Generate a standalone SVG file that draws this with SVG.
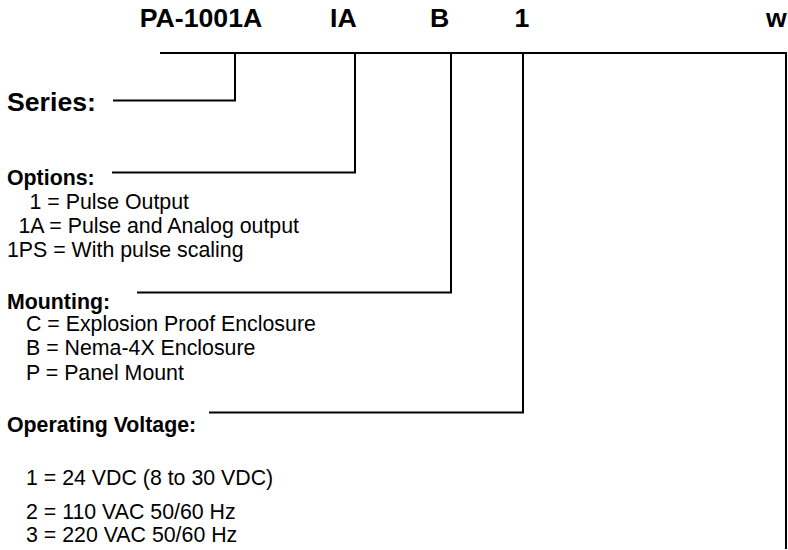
<svg xmlns="http://www.w3.org/2000/svg" width="788" height="550" viewBox="0 0 788 550">
<style>
  text { font-family: "Liberation Sans", Arial, sans-serif; fill: #000; }
  .code { font-size: 26.67px; font-weight: bold; }
  .series { font-size: 26.67px; font-weight: bold; }
  .head { font-size: 21.33px; font-weight: bold; }
  .item { font-size: 21.33px; }
  .conn { fill: none; stroke: #000; stroke-width: 2; stroke-linecap: square; stroke-linejoin: miter; }
</style>
<rect width="788" height="550" fill="#fff"/>
<g id="code">
  <text class="code" x="139.8" y="26.5">PA-1001A</text>
  <text class="code" x="330" y="26.5">IA</text>
  <text class="code" x="430" y="26.5">B</text>
  <text class="code" x="514.5" y="26.5">1</text>
  <text class="code" x="766" y="26.5">w</text>
</g>
<g id="connectors">
  <polyline class="conn" points="161,53 786,53 786,548"/>
  <polyline class="conn" points="235,53 235,100.5 114,100.5"/>
  <polyline class="conn" points="355,53 355,172.5 113,172.5"/>
  <polyline class="conn" points="451,53 451,292.5 138,292.5"/>
  <polyline class="conn" points="523,53 523,412.5 210,412.5"/>
</g>
<g id="series">
  <text class="series" x="7" y="111">Series:</text>
</g>
<g id="options">
  <text class="head" x="7" y="185">Options:</text>
  <text class="item" x="29.5" y="208.5">1 = Pulse Output</text>
  <text class="item" x="18.5" y="232.5">1A = Pulse and Analog output</text>
  <text class="item" x="7" y="256.5">1PS = With pulse scaling</text>
</g>
<g id="mounting">
  <text class="head" x="7" y="308.5">Mounting:</text>
  <text class="item" x="26" y="331">C = Explosion Proof Enclosure</text>
  <text class="item" x="26" y="355">B = Nema-4X Enclosure</text>
  <text class="item" x="26" y="379.5">P = Panel Mount</text>
</g>
<g id="voltage">
  <text class="head" x="7" y="431.5">Operating Voltage:</text>
  <text class="item" x="26" y="485">1 = 24 VDC (8 to 30 VDC)</text>
  <text class="item" x="26" y="518.5">2 = 110 VAC 50/60 Hz</text>
  <text class="item" x="26" y="541.5">3 = 220 VAC 50/60 Hz</text>
</g>
</svg>
